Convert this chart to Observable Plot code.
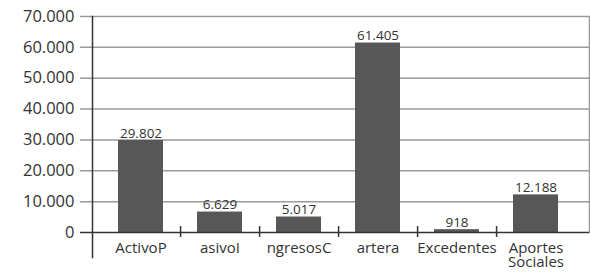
<!DOCTYPE html>
<html>
<head>
<meta charset="utf-8">
<script src="https://cdn.jsdelivr.net/npm/d3@7"></script>
<script src="https://cdn.jsdelivr.net/npm/@observablehq/plot@0.6"></script>
<style>
  html, body { margin: 0; padding: 0; background: #fff; }
</style>
</head>
<body>
<div id="chart"></div>
<script>
const categories = ["ActivoP", "asivoI", "ngresosC", "artera", "Excedentes", "Aportes\nSociales"];
const values = [29802, 6629, 5017, 61405, 918, 12188];
const yTicks = [0, 10000, 20000, 30000, 40000, 50000, 60000, 70000];

const locale = d3.formatLocale({decimal: ",", thousands: ".", grouping: [3], currency: ["", ""]});
const fmt = locale.format(",");

const data = categories.map((c, i) => ({category: c, value: values[i]}));

const xRange = [101, 576];
const step = (xRange[1] - xRange[0]) / categories.length;
const font = "'Open Sans', sans-serif";

const chart = Plot.plot({
  width: 590,
  height: 273,
  marginTop: 16,
  marginBottom: 41,
  marginLeft: 92,
  marginRight: 1,
  style: {fontFamily: font, color: "#333", background: "#fff"},
  x: {type: "band", domain: categories, range: xRange, paddingInner: 0.43, paddingOuter: 0.215, axis: null, label: null},
  y: {domain: [0, 70000], axis: null, label: null},
  marks: [
    Plot.ruleY(yTicks.slice(1), {y: d => d, stroke: "#9a9a9a", strokeWidth: 1.5, insetLeft: -12}),
    Plot.frame({anchor: "right", stroke: "#9a9a9a", strokeWidth: 1.5}),
    Plot.barY(data, {x: "category", y: "value", fill: "#575757"}),
    Plot.ruleY([0], {stroke: "#333", strokeWidth: 1.5, insetLeft: -12}),
    Plot.ruleX(categories.slice(0, -1), {x: d => d, y1: 0, y2: 0, dx: step / 2, insetTop: -6, insetBottom: -5, stroke: "#333", strokeWidth: 1.5}),
    Plot.frame({anchor: "left", stroke: "#333", strokeWidth: 1.5, insetBottom: -25}),
    Plot.text(data, {x: "category", y: "value", text: d => fmt(d.value), dy: -3, lineAnchor: "bottom", fontSize: 13.5, fill: "#333"}),
    Plot.axisY({ticks: yTicks, tickSize: 0, tickPadding: 18, tickFormat: fmt, fontSize: 16.5, fill: "#333", label: null}),
    Plot.axisX({tickSize: 0, tickPadding: 11, fontSize: 15, fill: "#333", lineHeight: 0.9, label: null})
  ]
});
document.getElementById("chart").appendChild(chart);
</script>
</body>
</html>
